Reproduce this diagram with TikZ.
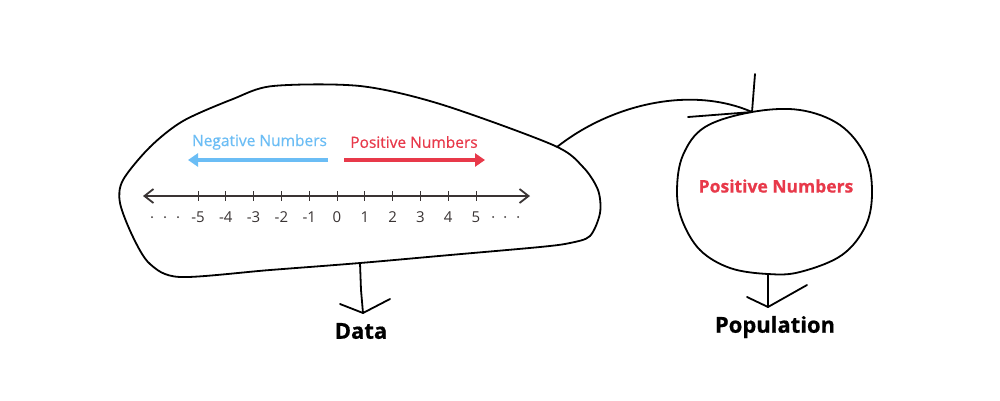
\documentclass[tikz,border=0pt]{standalone}
\usepackage{fontspec}
\setmainfont{Open Sans}
\newfontfamily\semib[FakeBold=0.5]{Open Sans}
\newfontfamily\heavy[FakeBold=0.6]{Open Sans Bold}
\usetikzlibrary{arrows.meta}
\definecolor{negblue}{HTML}{6BBDF5}
\definecolor{posred}{HTML}{E8394A}
\definecolor{axis}{HTML}{3A3434}
\tikzset{
  hand/.style={line width=1.8pt, black, line cap=round, line join=round},
  numlab/.style={font=\fontsize{15}{15}\selectfont, text=axis, inner sep=0pt, anchor=base},
  caption/.style={font=\fontsize{22}{22}\selectfont\heavy, inner sep=0pt},
}
\begin{document}
\begin{tikzpicture}[x=1pt,y=-1pt]
\useasboundingbox[fill=white] (0,0) rectangle (1000,400);
% blob (Data)
\draw[hand] plot[smooth cycle, tension=0.5] coordinates {
 (273,86) (360,86) (440,104) (553,145) (583,167) (598,190) (600,213) (590,236)
 (570,243) (540,247) (450,255) (360,263) (270,270) (180,277) (150,264) (133,237)
 (120,203) (123,180) (150,147) (183,121) (233,99)};
\coordinate (blobR) at (557,147);
\coordinate (blobB) at (360,263);
% circle (Population)
\draw[hand] plot[smooth cycle, tension=0.6] coordinates {
 (752,112) (800,110) (840,125) (865,155) (872,190) (866,225) (842,255) (800,272)
 (768,274) (730,268) (700,250) (682,220) (677,190) (683,155) (705,127)};
\coordinate (circT) at (752,112);
\coordinate (circB) at (768,274);
% connector blob -> circle
\draw[hand] (blobR) .. controls (610,105) and (690,85) .. (circT);
\coordinate (hA) at (755,74);
\coordinate (hB) at (688,117);
\draw[hand] (hA) -- (circT) -- (hB);
% Data arrow
\coordinate (dTip) at (363,313);
\coordinate (dL) at (340,304);
\coordinate (dR) at (390,299);
\draw[hand] (blobB) -- (361,290) -- (dTip);
\draw[hand] (dL) -- (dTip) -- (dR);
\node[caption] (data) at (361,331) {Data};
% Population arrow
\coordinate (pTip) at (768,307);
\coordinate (pL) at (747,297);
\coordinate (pR) at (807,285);
\draw[hand] (circB) -- (pTip);
\draw[hand] (pL) -- (pTip) -- (pR);
\node[caption] (pop) at (775,327) {Population};
% number line
\coordinate (nlL) at (143,196);
\coordinate (nlR) at (530,196);
\draw[axis, line width=1.8pt, {Straight Barb[length=9pt,width=14pt,line width=1.8pt]}-{Straight Barb[length=9pt,width=14pt,line width=1.8pt]}] (nlL) -- (nlR);
\foreach \n [count=\i from 0] in {-5,-4,-3,-2,-1,0,1,2,3,4,5} {
  \pgfmathsetmacro{\xx}{198+27.8*\i}
  \draw[axis, line width=0.8pt] (\xx,191) -- (\xx,201);
  \node[numlab] (n\i) at (\xx,222) {\n};
}
\foreach \xx in {152,165,178,493,505,518} \fill[axis] (\xx,217) circle (1pt);
% labels
\node[font=\fontsize{15.5}{15.5}\selectfont\semib, text=negblue, inner sep=0pt] (neg) at (259.5,142) {Negative Numbers};
\node[font=\fontsize{15.5}{15.5}\selectfont\semib, text=posred, inner sep=0pt] (pos) at (414,142) {Positive Numbers};
\coordinate (bS) at (328,160); \coordinate (bE) at (188,160);
\coordinate (rS) at (344,160); \coordinate (rE) at (485,160);
\draw[negblue, line width=4pt, -{Triangle[length=10pt,width=13pt]}] (bS) -- (bE);
\draw[posred, line width=4pt, -{Triangle[length=10pt,width=13pt]}] (rS) -- (rE);
\node[font=\fontsize{17.5}{17.5}\selectfont\heavy, text=posred, inner sep=0pt] (cpos) at (776,186) {Positive Numbers};
\end{tikzpicture}
\end{document}
